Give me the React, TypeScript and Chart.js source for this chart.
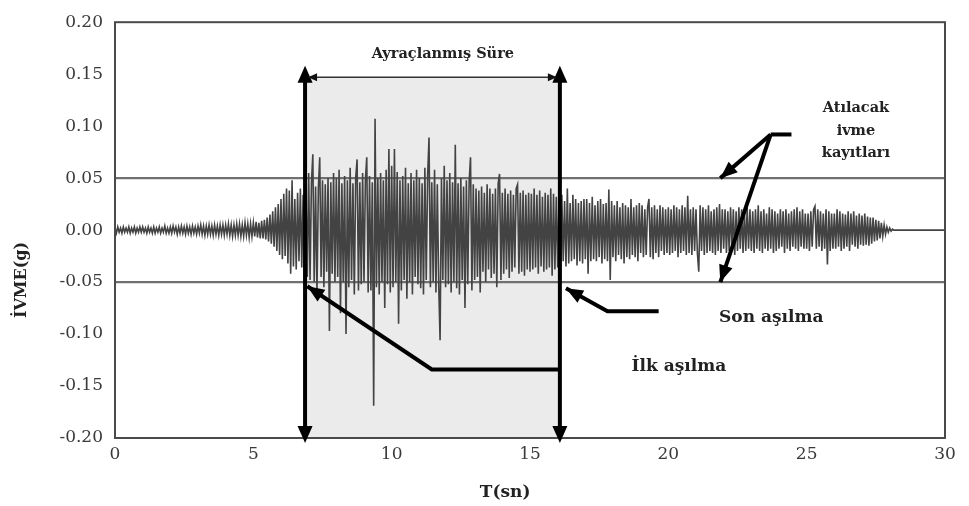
import { useEffect, useRef } from "react";
import { Chart, registerables } from "chart.js";

Chart.register(...registerables);

// Ground acceleration record, one sample every 0.05 s starting at t = 0 (g).
// Each row holds one second of record.
const SAMPLE_STEP = 0.05;
const accel: number[] = [
  0.002, -0.003, 0.003, -0.002, 0.002, -0.003, 0.003, -0.002, 0.002, -0.002, 0.003, -0.003, 0.002, -0.002, 0.003, -0.003, 0.002, -0.002, 0.003, -0.002,
  0.003, -0.002, 0.002, -0.003, 0.003, -0.002, 0.002, -0.003, 0.003, -0.003, 0.002, -0.002, 0.003, -0.003, 0.002, -0.002, 0.004, -0.003, 0.002, -0.003,
  0.003, -0.003, 0.004, -0.002, 0.003, -0.004, 0.003, -0.003, 0.004, -0.003, 0.003, -0.004, 0.004, -0.003, 0.003, -0.004, 0.004, -0.003, 0.003, -0.004,
  0.004, -0.003, 0.005, -0.004, 0.004, -0.005, 0.004, -0.004, 0.005, -0.004, 0.004, -0.005, 0.005, -0.004, 0.004, -0.005, 0.005, -0.004, 0.005, -0.005,
  0.005, -0.004, 0.006, -0.005, 0.005, -0.006, 0.005, -0.005, 0.006, -0.005, 0.006, -0.006, 0.005, -0.006, 0.007, -0.005, 0.006, -0.007, 0.006, -0.006,
  0.007, -0.006, 0.008, -0.007, 0.007, -0.008, 0.009, -0.008, 0.010, -0.009, 0.012, -0.011, 0.015, -0.013, 0.018, -0.016, 0.022, -0.020, 0.025, -0.024,
  0.030, -0.028, 0.035, -0.025, 0.040, -0.032, 0.038, -0.042, 0.048, -0.035, 0.030, -0.038, 0.036, -0.030, 0.040, -0.036, 0.034, -0.052, 0.040, -0.045,
  0.055, -0.048, 0.045, 0.073, -0.050, 0.042, -0.060, 0.040, 0.070, -0.045, 0.048, -0.055, 0.044, -0.040, 0.050, -0.097, 0.046, -0.042, 0.055, -0.050,
  0.050, -0.045, 0.058, -0.080, 0.045, -0.050, 0.052, -0.100, 0.048, -0.055, 0.060, -0.048, 0.045, -0.062, 0.050, 0.068, -0.058, 0.046, -0.052, 0.055,
  -0.050, 0.048, 0.070, -0.060, 0.052, -0.058, 0.046, -0.169, 0.107, -0.055, 0.050, -0.062, 0.055, -0.050, 0.048, -0.075, 0.058, -0.052, 0.078, -0.060,
  0.062, -0.055, 0.078, -0.050, 0.056, -0.090, 0.048, -0.058, 0.052, -0.048, 0.060, -0.066, 0.045, -0.050, 0.055, -0.062, 0.048, -0.045, 0.058, -0.052,
  0.050, -0.056, 0.045, -0.062, 0.060, -0.048, 0.052, 0.089, -0.055, 0.046, -0.050, 0.058, -0.060, 0.044, -0.052, -0.106, 0.050, -0.048, 0.062, -0.055,
  0.048, -0.052, 0.055, -0.060, 0.046, -0.050, 0.082, -0.056, 0.045, -0.062, 0.050, -0.048, 0.042, -0.075, 0.048, -0.052, 0.046, 0.070, -0.058, 0.044,
  -0.048, 0.040, -0.045, 0.038, -0.060, 0.042, -0.040, 0.036, -0.050, 0.044, -0.038, 0.040, -0.046, 0.035, -0.042, 0.040, -0.055, 0.045, 0.054, -0.048,
  0.036, -0.042, 0.040, -0.038, 0.035, -0.046, 0.038, -0.040, 0.034, -0.036, 0.040, 0.044, -0.042, 0.036, -0.040, 0.038, -0.044, 0.034, -0.038, 0.036,
  -0.040, 0.035, -0.038, 0.040, -0.036, 0.034, -0.042, 0.038, -0.035, 0.032, -0.040, 0.036, -0.038, 0.034, -0.036, 0.040, -0.044, 0.035, -0.038, 0.032,
  -0.036, 0.030, -0.050, 0.034, -0.030, 0.028, -0.035, 0.040, -0.032, 0.026, -0.030, 0.034, -0.028, 0.030, -0.034, 0.026, -0.030, 0.028, -0.032, 0.030,
  -0.028, 0.030, -0.042, 0.026, -0.030, 0.032, -0.028, 0.024, -0.030, 0.028, -0.026, 0.030, -0.032, 0.025, -0.028, 0.026, -0.030, 0.039, -0.048, 0.028,
  -0.026, 0.024, -0.030, 0.028, -0.024, 0.022, -0.028, 0.026, -0.032, 0.024, -0.026, 0.022, -0.028, 0.030, -0.024, 0.022, -0.026, 0.024, -0.030, 0.026,
  -0.022, 0.024, -0.026, 0.020, -0.024, 0.022, 0.030, -0.026, 0.022, -0.028, 0.024, -0.022, 0.020, -0.026, 0.024, -0.020, 0.022, -0.024, 0.020, -0.022,
  0.022, -0.024, 0.020, -0.022, 0.024, -0.020, 0.022, -0.026, 0.020, -0.022, 0.024, -0.020, 0.022, -0.024, 0.033, -0.022, 0.020, -0.024, 0.022, -0.020,
  0.020, -0.022, -0.040, 0.024, -0.020, 0.022, -0.024, 0.020, -0.022, 0.024, -0.020, 0.018, -0.022, 0.020, -0.024, 0.022, -0.020, 0.025, -0.022, 0.020,
  -0.018, 0.020, -0.022, 0.018, -0.020, 0.022, -0.018, 0.020, -0.024, 0.018, -0.020, 0.022, -0.018, 0.020, -0.022, 0.018, -0.020, 0.022, -0.018, 0.020,
  -0.020, 0.018, -0.022, 0.020, -0.018, 0.024, -0.020, 0.018, -0.022, 0.020, -0.018, 0.016, -0.020, 0.022, -0.018, 0.020, -0.022, 0.018, -0.020, 0.016,
  -0.018, 0.020, -0.016, 0.018, -0.022, 0.020, -0.018, 0.016, -0.020, 0.018, -0.016, 0.020, -0.018, 0.022, -0.020, 0.018, -0.016, 0.020, -0.018, 0.016,
  -0.018, 0.016, -0.020, 0.018, -0.016, 0.020, 0.023, -0.018, 0.020, -0.016, 0.018, -0.020, 0.016, -0.018, 0.020, -0.033, 0.018, -0.020, 0.016, -0.018,
  0.016, -0.018, 0.020, -0.016, 0.018, -0.020, 0.016, -0.018, 0.015, -0.016, 0.018, -0.020, 0.016, -0.014, 0.018, -0.016, 0.014, -0.018, 0.016, -0.014,
  0.014, -0.015, 0.016, -0.014, 0.013, -0.015, 0.012, -0.013, 0.012, -0.011, 0.010, -0.010, 0.009, -0.008, 0.007, -0.006, 0.005, -0.004, 0.003, -0.002,
  0.002, -0.001, 0.001, 0, 0, 0, 0, 0, 0, 0, 0, 0, 0, 0, 0, 0, 0, 0, 0, 0,
  0, 0, 0, 0, 0, 0, 0, 0, 0, 0, 0, 0, 0, 0, 0, 0, 0, 0, 0, 0,
  0,
];

// Axis ranges and ticks
const X_MIN = 0;
const X_MAX = 30;
const X_STEP = 5;
const Y_MIN = -0.2;
const Y_MAX = 0.2;
const Y_STEP = 0.05;

// Threshold acceleration and bracketed duration (first / last exceedance)
const THRESHOLD = 0.05;
const FIRST_EXCEEDANCE = 6.87;
const LAST_EXCEEDANCE = 16.08;
const BRACKET_TOP = 0.147;
const ARROW_TOP = 0.158;

// Texts
const X_TITLE = "T(sn)";
const Y_TITLE = "İVME(g)";
const BRACKET_LABEL = "Ayraçlanmış Süre";
const DISCARD_LABEL = ["Atılacak", "ivme", "kayıtları"];
const LAST_LABEL = "Son aşılma";
const FIRST_LABEL = "İlk aşılma";

const SERIF = '"DejaVu Serif", serif';

type Pt = [number, number];

function drawHead(ctx: CanvasRenderingContext2D, from: Pt, tip: Pt, len: number, half: number) {
  const dx = tip[0] - from[0];
  const dy = tip[1] - from[1];
  const d = Math.hypot(dx, dy) || 1;
  const ux = dx / d;
  const uy = dy / d;
  const bx = tip[0] - ux * len;
  const by = tip[1] - uy * len;
  ctx.beginPath();
  ctx.moveTo(tip[0], tip[1]);
  ctx.lineTo(bx - uy * half, by + ux * half);
  ctx.lineTo(bx + uy * half, by - ux * half);
  ctx.closePath();
  ctx.fill();
}

function polyline(ctx: CanvasRenderingContext2D, pts: Pt[]) {
  ctx.beginPath();
  ctx.moveTo(pts[0][0], pts[0][1]);
  for (let i = 1; i < pts.length; i++) ctx.lineTo(pts[i][0], pts[i][1]);
  ctx.stroke();
}

const annotations = {
  id: "bracketAnnotations",
  beforeDatasetsDraw(chart: any) {
    const { ctx, chartArea: a, scales } = chart;
    const x = scales.x;
    const y = scales.y;
    ctx.save();
    const x0 = x.getPixelForValue(FIRST_EXCEEDANCE);
    const x1 = x.getPixelForValue(LAST_EXCEEDANCE);
    const yTop = y.getPixelForValue(BRACKET_TOP);
    ctx.fillStyle = "#ebebeb";
    ctx.fillRect(x0, yTop, x1 - x0, a.bottom - yTop);

    ctx.strokeStyle = "#707070";
    ctx.lineWidth = 2.4;
    for (const v of [THRESHOLD, -THRESHOLD]) {
      const py = y.getPixelForValue(v);
      polyline(ctx, [[a.left, py], [a.right, py]]);
    }
    ctx.restore();
  },
  afterDatasetsDraw(chart: any) {
    const { ctx, chartArea: a, scales } = chart;
    const x = scales.x;
    const y = scales.y;
    const P = (tx: number, vy: number): Pt => [x.getPixelForValue(tx), y.getPixelForValue(vy)];
    ctx.save();

    // plot frame
    ctx.strokeStyle = "#4a4a4a";
    ctx.lineWidth = 2;
    ctx.strokeRect(a.left, a.top, a.right - a.left, a.bottom - a.top);

    ctx.fillStyle = "#000";
    ctx.strokeStyle = "#000";
    ctx.lineCap = "butt";

    // vertical double arrows at first / last exceedance
    for (const t of [FIRST_EXCEEDANCE, LAST_EXCEEDANCE]) {
      const px = x.getPixelForValue(t);
      const top: Pt = [px, y.getPixelForValue(ARROW_TOP)];
      const bot: Pt = [px, a.bottom + 5];
      ctx.lineWidth = 4;
      polyline(ctx, [[px, top[1] + 10], [px, bot[1] - 10]]);
      drawHead(ctx, [px, top[1] + 30], top, 17, 7.5);
      drawHead(ctx, [px, bot[1] - 30], bot, 17, 7.5);
    }

    // bracketed duration arrow
    const hl = P(FIRST_EXCEEDANCE, BRACKET_TOP);
    const hr = P(LAST_EXCEEDANCE, BRACKET_TOP);
    ctx.lineWidth = 1.5;
    ctx.strokeStyle = "#333";
    polyline(ctx, [[hl[0] + 4, hl[1]], [hr[0] - 4, hr[1]]]);
    ctx.fillStyle = "#111";
    drawHead(ctx, [hl[0] + 20, hl[1]], [hl[0] + 3, hl[1]], 9, 4);
    drawHead(ctx, [hr[0] - 20, hr[1]], [hr[0] - 3, hr[1]], 9, 4);

    ctx.fillStyle = "#000";
    ctx.strokeStyle = "#000";
    ctx.lineWidth = 4;

    // pointers to the discarded records
    const hub = P(23.7, 0.092);
    const tail = P(24.45, 0.092);
    const upTip = P(21.88, THRESHOLD);
    const dnTip = P(21.88, -THRESHOLD);
    polyline(ctx, [tail, hub]);
    polyline(ctx, [hub, upTip]);
    polyline(ctx, [hub, dnTip]);
    drawHead(ctx, hub, upTip, 17, 7);
    drawHead(ctx, hub, dnTip, 17, 7);

    // last exceedance pointer
    const sTail = P(19.65, -0.078);
    const sKnee = P(17.8, -0.078);
    const sTip = P(16.3, -0.056);
    polyline(ctx, [sTail, sKnee, sTip]);
    drawHead(ctx, sKnee, sTip, 17, 7);

    // first exceedance pointer
    const fTail = P(LAST_EXCEEDANCE, -0.134);
    const fKnee = P(11.45, -0.134);
    const fTip = P(6.95, -0.054);
    polyline(ctx, [fTail, fKnee, fTip]);
    drawHead(ctx, fKnee, fTip, 17, 7);

    // labels
    ctx.fillStyle = "#222";
    ctx.textAlign = "center";
    ctx.textBaseline = "middle";
    ctx.font = `bold 14.5px ${SERIF}`;
    const bl = P(11.85, 0.169);
    ctx.fillText(BRACKET_LABEL, bl[0], bl[1]);

    ctx.font = `bold 14.5px ${SERIF}`;
    const dl = P(26.78, 0.117);
    DISCARD_LABEL.forEach((s, i) => ctx.fillText(s, dl[0], dl[1] + i * 22.5));

    ctx.font = `bold 17px ${SERIF}`;
    const sl = P(23.72, -0.084);
    ctx.fillText(LAST_LABEL, sl[0], sl[1]);
    const fl = P(20.38, -0.131);
    ctx.fillText(FIRST_LABEL, fl[0], fl[1]);

    // axis titles
    ctx.font = `bold 17px ${SERIF}`;
    const xt = P(14.1, 0);
    ctx.fillText(X_TITLE, xt[0], 493);
    ctx.font = `bold 16px ${SERIF}`;
    const yt = P(0, -0.048);
    ctx.translate(22, yt[1]);
    ctx.rotate(-Math.PI / 2);
    ctx.fillText(Y_TITLE, 0, 0);

    ctx.restore();
  },
};

export default function App() {
  const ref = useRef<HTMLCanvasElement | null>(null);

  useEffect(() => {
    document.body.style.margin = "0";
    const canvas = ref.current;
    if (!canvas) return;
    const points = accel.map((v, i) => ({ x: +(i * SAMPLE_STEP).toFixed(2), y: v }));
    const chart = new Chart(canvas, {
      type: "line",
      data: {
        datasets: [
          {
            data: points,
            borderColor: "#434343",
            borderWidth: 1.6,
            pointRadius: 0,
            tension: 0,
            fill: false,
          },
        ],
      },
      options: {
        animation: false,
        responsive: false,
        devicePixelRatio: 1,
        layout: { padding: { top: 12, right: 24, left: 0, bottom: 0 } },
        plugins: {
          legend: { display: false },
          tooltip: { enabled: false },
        },
        scales: {
          x: {
            type: "linear",
            min: X_MIN,
            max: X_MAX,
            grid: { display: false, drawTicks: false },
            border: { display: false },
            afterFit: (s: any) => {
              s.height = 68;
            },
            ticks: {
              stepSize: X_STEP,
              padding: 6,
              color: "#3a3a3a",
              font: { family: SERIF, size: 17 },
              callback: (v: any) => String(v),
            },
          },
          y: {
            min: Y_MIN,
            max: Y_MAX,
            grid: { display: false, drawTicks: false },
            border: { display: false },
            afterFit: (s: any) => {
              s.width = 115;
            },
            ticks: {
              stepSize: Y_STEP,
              padding: 12,
              color: "#3a3a3a",
              font: { family: SERIF, size: 17 },
              callback: (v: any) => Number(v).toFixed(2),
            },
          },
        },
      },
      plugins: [annotations],
    });
    return () => chart.destroy();
  }, []);

  return (
    <div style={{ position: "fixed", left: 0, top: 0, width: 969, height: 506, background: "#fff" }}>
      <canvas ref={ref} width={969} height={506} />
    </div>
  );
}
